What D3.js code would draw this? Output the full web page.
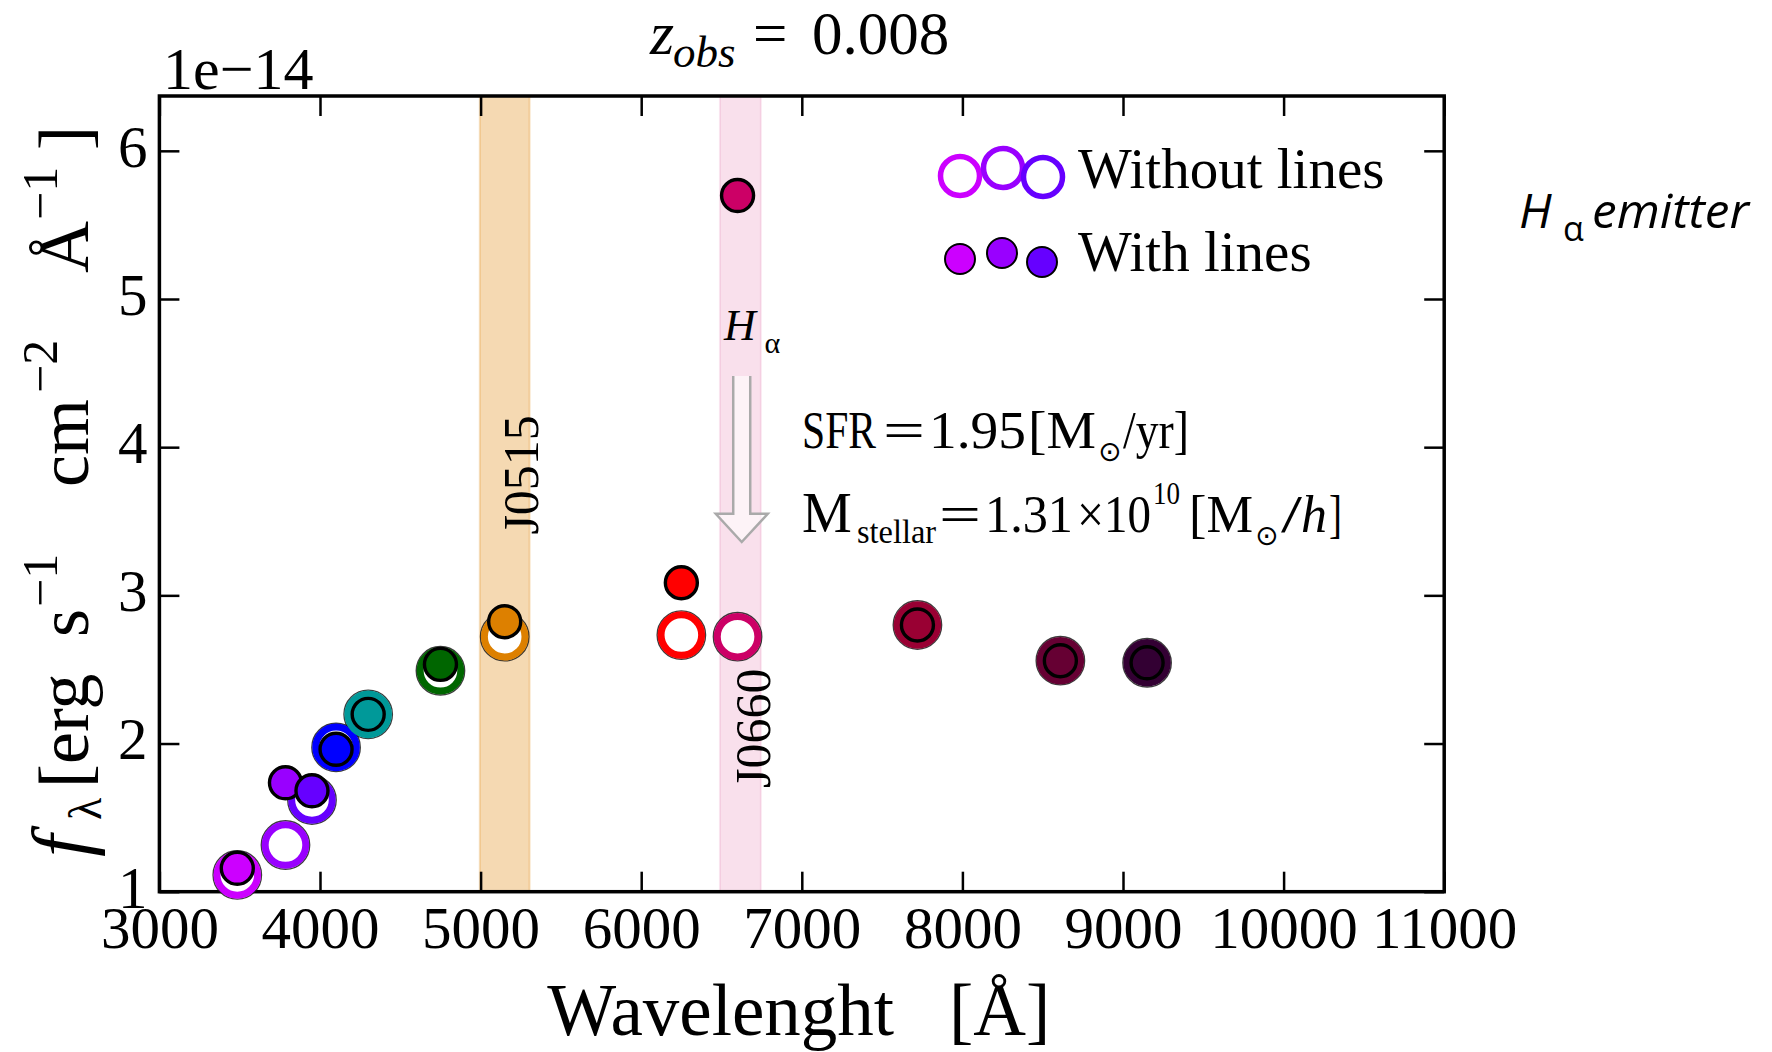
<!DOCTYPE html>
<html>
<head>
<meta charset="utf-8">
<script src="https://cdn.jsdelivr.net/npm/d3@7"></script>
<style>
  html, body { margin: 0; padding: 0; background: #ffffff; }
  svg text { font-family: "Liberation Serif", "DejaVu Serif", serif; fill: #000; }
</style>
</head>
<body>
<svg id="chart" width="1772" height="1052"></svg>
<script>
// J-PLUS photometric filters and the synthetic SED of an H-alpha emitter
const filters = ["uJAVA", "J0378", "J0395", "J0410", "J0430", "gSDSS",
                 "J0515", "rSDSS", "J0660", "iSDSS", "J0861", "zSDSS"];
const wavelengths = [3485, 3785, 3950, 4100, 4300, 4750, 5150, 6250, 6600, 7720, 8610, 9150];
// flux in units of 1e-14 erg s^-1 cm^-2 A^-1
const fluxWithLines    = [1.158, 1.735, 1.681, 1.961, 2.197, 2.534, 2.822, 3.085, 5.698, 2.800, 2.559, 2.545];
const fluxWithoutLines = [1.113, 1.315, 1.619, 1.974, 2.197, 2.491, 2.721, 2.732, 2.721, 2.800, 2.559, 2.545];
const filterColors = ["#cc00ff", "#9900ff", "#6600ff", "#0000ff", "#009999", "#006600",
                      "#dd8000", "#ff0000", "#cc0066", "#990033", "#660033", "#330033"];

const xTicks = [3000, 4000, 5000, 6000, 7000, 8000, 9000, 10000, 11000];
const yTicks = [1, 2, 3, 4, 5, 6];

// highlighted narrow-band filters
const bandNames = ["J0515", "J0660"];
const bandStart = [4995, 6490];
const bandEnd   = [5305, 6745];
const bandColors = ["#dd8000", "#cc0066"];
const bandOpacity = [0.3, 0.12];

const svg = d3.select("#chart");
const W = 1772, H = 1052;
const plot = { left: 159.4, right: 1444.2, top: 96, bottom: 891.7 };

const x = d3.scaleLinear().domain([3000, 11000]).range([plot.left, plot.right]);
const y = d3.scaleLinear().domain([1, 6.37]).range([plot.bottom, plot.top]);

svg.append("rect").attr("width", W).attr("height", H).attr("fill", "#fff");

// filter bands
const bands = svg.append("g");
bandNames.forEach((name, i) => {
  bands.append("rect")
    .attr("x", x(bandStart[i]))
    .attr("y", plot.top)
    .attr("width", x(bandEnd[i]) - x(bandStart[i]))
    .attr("height", plot.bottom - plot.top)
    .attr("fill", bandColors[i]).attr("fill-opacity", bandOpacity[i])
    .attr("stroke", bandColors[i]).attr("stroke-opacity", bandOpacity[i] * 0.8)
    .attr("stroke-width", 2);
});

// band labels (rotated, reading upward)
const bandLabelPos = [{ lx: 5355, ly: 3.41 }, { lx: 6805, ly: 1.70 }];
bandNames.forEach((name, i) => {
  svg.append("text")
    .attr("transform", `translate(${x(bandLabelPos[i].lx)},${y(bandLabelPos[i].ly)}) rotate(-90)`)
    .attr("font-size", 50)
    .text(name);
});

// axes with inward ticks
const tickLen = 20;
const axB = svg.append("g").attr("transform", `translate(0,${plot.bottom})`)
  .call(d3.axisBottom(x).tickValues(xTicks).tickSizeInner(-tickLen).tickSizeOuter(0)
        .tickPadding(14).tickFormat(d3.format("d")));
const axT = svg.append("g").attr("transform", `translate(0,${plot.top})`)
  .call(d3.axisTop(x).tickValues(xTicks).tickSizeInner(-tickLen).tickSizeOuter(0).tickFormat(""));
const axL = svg.append("g").attr("transform", `translate(${plot.left},0)`)
  .call(d3.axisLeft(y).tickValues(yTicks).tickSizeInner(-tickLen).tickSizeOuter(0)
        .tickPadding(12).tickFormat(d3.format("d")));
const axR = svg.append("g").attr("transform", `translate(${plot.right},0)`)
  .call(d3.axisRight(y).tickValues(yTicks).tickSizeInner(-tickLen).tickSizeOuter(0).tickFormat(""));

[axB, axT, axL, axR].forEach(a => {
  a.select(".domain").remove();
  a.selectAll(".tick line").attr("stroke", "#000").attr("stroke-width", 2.5);
  a.selectAll(".tick text")
    .attr("font-family", "Liberation Serif, DejaVu Serif, serif")
    .attr("font-size", 59).attr("fill", "#000");
});
axL.selectAll(".tick text").attr("dy", "0.26em");

// frame
svg.append("rect")
  .attr("x", plot.left).attr("y", plot.top)
  .attr("width", plot.right - plot.left).attr("height", plot.bottom - plot.top)
  .attr("fill", "none").attr("stroke", "#000").attr("stroke-width", 3.5);

// offset text
svg.append("text").attr("x", 163).attr("y", 89).attr("font-size", 60).text("1e\u221214");

// data markers: photometry without emission lines (open), then with lines (filled)
const pts = svg.append("g");
const idx = d3.range(filters.length);
pts.selectAll("circle.edge").data(idx).join("circle")
  .attr("class", "edge")
  .attr("cx", i => x(wavelengths[i])).attr("cy", i => y(fluxWithoutLines[i]))
  .attr("r", 24.2).attr("fill", "none")
  .attr("stroke", "#1a1a1a").attr("stroke-width", 1.4).attr("stroke-opacity", 0.85);
pts.selectAll("circle.open").data(idx).join("circle")
  .attr("class", "open")
  .attr("cx", i => x(wavelengths[i])).attr("cy", i => y(fluxWithoutLines[i]))
  .attr("r", 20.3).attr("fill", "#fff")
  .attr("stroke", i => filterColors[i]).attr("stroke-width", 7);
pts.selectAll("circle.filled").data(idx).join("circle")
  .attr("class", "filled")
  .attr("cx", i => x(wavelengths[i])).attr("cy", i => y(fluxWithLines[i]))
  .attr("r", 16).attr("fill", i => filterColors[i])
  .attr("stroke", "#000").attr("stroke-width", 3.4);

// H-alpha arrow annotation (hollow arrow, data coordinates)
const arrow = { lam: 6626, from: 4.48, headBase: 3.55, tip: 3.36 };
const ax0 = x(arrow.lam), yTop = y(arrow.from), yHead = y(arrow.headBase), yTip = y(arrow.tip);
const shaftHalf = 8.5, headHalf = 26;
svg.append("path")
  .attr("d", `M${ax0 - shaftHalf},${yTop} L${ax0 - shaftHalf},${yHead} L${ax0 - headHalf},${yHead}
              L${ax0},${yTip} L${ax0 + headHalf},${yHead} L${ax0 + shaftHalf},${yHead} L${ax0 + shaftHalf},${yTop}`)
  .attr("fill", "#fff").attr("fill-opacity", 0.6)
  .attr("stroke", "#aaaaaa").attr("stroke-width", 2.5).attr("stroke-linejoin", "miter");

// H alpha label above the arrow
const ha = svg.append("text").attr("x", x(6515)).attr("y", y(4.723));
ha.append("tspan").attr("font-style", "italic").attr("font-size", 44).text("H");
ha.append("tspan").attr("x", x(6768)).attr("dy", 13).attr("font-size", 30).text("\u03b1");

// SFR and stellar mass; each piece is fitted to its slot
function piece(sel, p) {
  const t = sel.append("tspan").attr("x", p.x).attr("y", p.y).text(p.t);
  if (p.size) t.attr("font-size", p.size);
  if (p.len) t.attr("textLength", p.len).attr("lengthAdjust", "spacingAndGlyphs");
  if (p.it) t.attr("font-style", "italic");
  if (p.fam) t.attr("font-family", p.fam);
  return t;
}
const sfr = svg.append("text").attr("font-size", 52);
[
  { t: "SFR", x: 802, y: 448, len: 74 },
  { t: "=", x: 883, y: 448, len: 42 },
  { t: "1.95", x: 929, y: 448, len: 97 },
  { t: "[M", x: 1028, y: 448, len: 68 },
  { t: "\u2299", x: 1098, y: 461, size: 28, fam: "DejaVu Sans" },
  { t: "/yr]", x: 1123, y: 448, len: 66 }
].forEach(p => piece(sfr, p));

const ms = svg.append("text").attr("font-size", 52);
[
  { t: "M", x: 802, y: 532, size: 56 },
  { t: "stellar", x: 857, y: 543, size: 34, len: 79 },
  { t: "=", x: 939, y: 532, len: 42 },
  { t: "1.31", x: 985, y: 532, len: 88 },
  { t: "\u00d7", x: 1077, y: 532, len: 27 },
  { t: "10", x: 1104, y: 532, len: 47 },
  { t: "10", x: 1153, y: 504, size: 32, len: 27 },
  { t: "[M", x: 1189, y: 532, len: 64 },
  { t: "\u2299", x: 1255, y: 545, size: 28, fam: "DejaVu Sans" },
  { t: "/", x: 1281, y: 532, len: 21 },
  { t: "h", x: 1301, y: 532, it: true, len: 26 },
  { t: "]", x: 1329, y: 532, len: 13 }
].forEach(p => piece(ms, p));

// legend
const legendOpen = [{ dx: 960, dy: 176 }, { dx: 1003, dy: 168 }, { dx: 1043, dy: 177 }];
const legendFilled = [{ dx: 960, dy: 259 }, { dx: 1002, dy: 253 }, { dx: 1042, dy: 262 }];
const legend = svg.append("g");
legendOpen.forEach((p, i) => {
  legend.append("circle").attr("cx", p.dx).attr("cy", p.dy).attr("r", 19.5)
    .attr("fill", "#fff").attr("fill-opacity", 0).attr("stroke", filterColors[i]).attr("stroke-width", 5.5);
});
legendFilled.forEach((p, i) => {
  legend.append("circle").attr("cx", p.dx).attr("cy", p.dy).attr("r", 15)
    .attr("fill", filterColors[i]).attr("stroke", "#000").attr("stroke-width", 2);
});
legend.append("text").attr("x", 1078).attr("y", 188).attr("font-size", 57).text("Without lines");
legend.append("text").attr("x", 1078).attr("y", 271).attr("font-size", 57).text("With lines");

// title
const title = svg.append("text").attr("y", 54).attr("font-size", 61);
title.append("tspan").attr("x", 650).attr("font-style", "italic").attr("font-size", 62).text("z");
title.append("tspan").attr("x", 673).attr("y", 67).attr("font-style", "italic").attr("font-size", 45).text("obs");
title.append("tspan").attr("x", 753).attr("y", 54).text("=");
title.append("tspan").attr("x", 812).text("0.008");

// object type tag
const tag = svg.append("text").attr("y", 228);
piece(tag, { t: "H", x: 1519, y: 228, size: 48, it: true, fam: "Open Sans" });
piece(tag, { t: "\u03b1", x: 1563, y: 241, size: 34, fam: "Open Sans" });
piece(tag, { t: "emitter", x: 1592, y: 228, size: 48, it: true, fam: "Open Sans", len: 157 });

// x axis label
svg.append("text").attr("x", (plot.left + plot.right) / 2 - 3).attr("y", 1035)
  .attr("text-anchor", "middle").attr("font-size", 73)
  .attr("xml:space", "preserve").text("Wavelenght   [\u00c5]");

// y axis label, rotated; pieces laid out along the axis
const yl = svg.append("text").attr("transform", "translate(88,857) rotate(-90)").attr("font-size", 72);
const ySup = -31, ySub = 13;
const yPieces = [
  { t: "f", at: 0, dy: 0, size: 80, it: true },
  { t: "\u03bb", at: 37, dy: ySub, size: 46 },
  { t: "[erg", at: 69, dy: 0, size: 72 },
  { t: "s", at: 220, dy: 0, size: 72 },
  { t: "\u22121", at: 250, dy: ySup, size: 50 },
  { t: "cm", at: 370, dy: 0, size: 72 },
  { t: "\u22122", at: 464, dy: ySup, size: 50 },
  { t: "\u00c5", at: 584, dy: 0, size: 72 },
  { t: "\u22121", at: 637, dy: ySup, size: 50 },
  { t: "]", at: 707, dy: 0, size: 72 }
];
yPieces.forEach(p => {
  const ts = yl.append("tspan").attr("x", p.at).attr("y", p.dy).attr("font-size", p.size).text(p.t);
  if (p.it) ts.attr("font-style", "italic");
});
</script>
</body>
</html>
